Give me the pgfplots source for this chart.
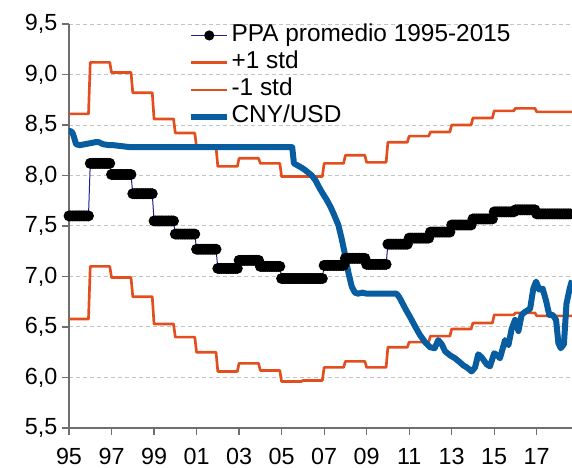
\documentclass[border=0pt]{standalone}
\usepackage{fontspec}
\setmainfont{Liberation Sans}
\usepackage{pgfplots}
\pgfplotsset{compat=1.18}
\definecolor{orng}{RGB}{226,78,30}
\definecolor{cnyblue}{RGB}{8,92,160}
\definecolor{navyl}{RGB}{30,30,140}
\definecolor{axgray}{RGB}{110,110,110}
\definecolor{gridgray}{RGB}{195,195,195}
\begin{document}
\begin{tikzpicture}
\begin{axis}[
  scale only axis, width=377.25pt, height=303pt,
  xmin=1995, xmax=2018.66, ymin=5.5, ymax=9.5,
  clip=false,
  axis x line=bottom, axis y line=left,
  axis line style={-, draw=axgray, line width=0.9pt},
  xtick={1995,1997,...,2017},
  xticklabels={95,97,99,01,03,05,07,09,11,13,15,17},
  ytick={5.5,6,...,9.5},
  tick align=outside, major tick length=5.25pt,
  tick style={axgray, line width=0.9pt},
  ymajorgrids, grid style={gridgray, dash pattern=on 3pt off 2.25pt, line width=0.75pt},
  yticklabel style={/pgf/number format/.cd, fixed, fixed zerofill, precision=1, use comma, assume math mode=true},
  xticklabel style={/pgf/number format/assume math mode=true, yshift=-6.5pt},
  ticklabel style={font=\fontsize{17.5}{21}\selectfont},
  legend style={at={(rel axis cs:0.2445,1.0)}, anchor=north west, draw=none, fill=none,
    xshift=-6pt, yshift=3.5pt,
    font=\fontsize{18.3}{22}\selectfont, row sep=0.6pt,
    nodes={inner xsep=1pt, inner ysep=1.5pt, text height=12.8pt, text depth=4pt}},
  legend cell align=left,
  legend image code/.code={\draw[#1] (0pt,0pt) -- (27pt,0pt);},
]
\addplot[navyl, line width=0.75pt, mark=*, mark size=3.7pt,
  mark options={black, fill=black, draw=black},
  legend image code/.code={\draw[navyl, line width=0.75pt] (0pt,0pt) -- (27pt,0pt); \fill[black] (13.5pt,0pt) circle (3.4pt);}]
coordinates {
(1995.000,7.60) (1995.083,7.60) (1995.167,7.60) (1995.250,7.60) (1995.333,7.60) (1995.417,7.60) (1995.500,7.60) (1995.583,7.60) (1995.667,7.60) (1995.750,7.60) (1995.833,7.60) (1995.917,7.60)
(1996.000,8.12) (1996.083,8.12) (1996.167,8.12) (1996.250,8.12) (1996.333,8.12) (1996.417,8.12) (1996.500,8.12) (1996.583,8.12) (1996.667,8.12) (1996.750,8.12) (1996.833,8.12) (1996.917,8.12)
(1997.000,8.01) (1997.083,8.01) (1997.167,8.01) (1997.250,8.01) (1997.333,8.01) (1997.417,8.01) (1997.500,8.01) (1997.583,8.01) (1997.667,8.01) (1997.750,8.01) (1997.833,8.01) (1997.917,8.01)
(1998.000,7.82) (1998.083,7.82) (1998.167,7.82) (1998.250,7.82) (1998.333,7.82) (1998.417,7.82) (1998.500,7.82) (1998.583,7.82) (1998.667,7.82) (1998.750,7.82) (1998.833,7.82) (1998.917,7.82)
(1999.000,7.55) (1999.083,7.55) (1999.167,7.55) (1999.250,7.55) (1999.333,7.55) (1999.417,7.55) (1999.500,7.55) (1999.583,7.55) (1999.667,7.55) (1999.750,7.55) (1999.833,7.55) (1999.917,7.55)
(2000.000,7.42) (2000.083,7.42) (2000.167,7.42) (2000.250,7.42) (2000.333,7.42) (2000.417,7.42) (2000.500,7.42) (2000.583,7.42) (2000.667,7.42) (2000.750,7.42) (2000.833,7.42) (2000.917,7.42)
(2001.000,7.27) (2001.083,7.27) (2001.167,7.27) (2001.250,7.27) (2001.333,7.27) (2001.417,7.27) (2001.500,7.27) (2001.583,7.27) (2001.667,7.27) (2001.750,7.27) (2001.833,7.27) (2001.917,7.27)
(2002.000,7.08) (2002.083,7.08) (2002.167,7.08) (2002.250,7.08) (2002.333,7.08) (2002.417,7.08) (2002.500,7.08) (2002.583,7.08) (2002.667,7.08) (2002.750,7.08) (2002.833,7.08) (2002.917,7.08)
(2003.000,7.16) (2003.083,7.16) (2003.167,7.16) (2003.250,7.16) (2003.333,7.16) (2003.417,7.16) (2003.500,7.16) (2003.583,7.16) (2003.667,7.16) (2003.750,7.16) (2003.833,7.16) (2003.917,7.16)
(2004.000,7.10) (2004.083,7.10) (2004.167,7.10) (2004.250,7.10) (2004.333,7.10) (2004.417,7.10) (2004.500,7.10) (2004.583,7.10) (2004.667,7.10) (2004.750,7.10) (2004.833,7.10) (2004.917,7.10)
(2005.000,6.98) (2005.083,6.98) (2005.167,6.98) (2005.250,6.98) (2005.333,6.98) (2005.417,6.98) (2005.500,6.98) (2005.583,6.98) (2005.667,6.98) (2005.750,6.98) (2005.833,6.98) (2005.917,6.98)
(2006.000,6.98) (2006.083,6.98) (2006.167,6.98) (2006.250,6.98) (2006.333,6.98) (2006.417,6.98) (2006.500,6.98) (2006.583,6.98) (2006.667,6.98) (2006.750,6.98) (2006.833,6.98) (2006.917,6.98)
(2007.000,7.11) (2007.083,7.11) (2007.167,7.11) (2007.250,7.11) (2007.333,7.11) (2007.417,7.11) (2007.500,7.11) (2007.583,7.11) (2007.667,7.11) (2007.750,7.11) (2007.833,7.11) (2007.917,7.11)
(2008.000,7.18) (2008.083,7.18) (2008.167,7.18) (2008.250,7.18) (2008.333,7.18) (2008.417,7.18) (2008.500,7.18) (2008.583,7.18) (2008.667,7.18) (2008.750,7.18) (2008.833,7.18) (2008.917,7.18)
(2009.000,7.12) (2009.083,7.12) (2009.167,7.12) (2009.250,7.12) (2009.333,7.12) (2009.417,7.12) (2009.500,7.12) (2009.583,7.12) (2009.667,7.12) (2009.750,7.12) (2009.833,7.12) (2009.917,7.12)
(2010.000,7.32) (2010.083,7.32) (2010.167,7.32) (2010.250,7.32) (2010.333,7.32) (2010.417,7.32) (2010.500,7.32) (2010.583,7.32) (2010.667,7.32) (2010.750,7.32) (2010.833,7.32) (2010.917,7.32)
(2011.000,7.38) (2011.083,7.38) (2011.167,7.38) (2011.250,7.38) (2011.333,7.38) (2011.417,7.38) (2011.500,7.38) (2011.583,7.38) (2011.667,7.38) (2011.750,7.38) (2011.833,7.38) (2011.917,7.38)
(2012.000,7.44) (2012.083,7.44) (2012.167,7.44) (2012.250,7.44) (2012.333,7.44) (2012.417,7.44) (2012.500,7.44) (2012.583,7.44) (2012.667,7.44) (2012.750,7.44) (2012.833,7.44) (2012.917,7.44)
(2013.000,7.51) (2013.083,7.51) (2013.167,7.51) (2013.250,7.51) (2013.333,7.51) (2013.417,7.51) (2013.500,7.51) (2013.583,7.51) (2013.667,7.51) (2013.750,7.51) (2013.833,7.51) (2013.917,7.51)
(2014.000,7.57) (2014.083,7.57) (2014.167,7.57) (2014.250,7.57) (2014.333,7.57) (2014.417,7.57) (2014.500,7.57) (2014.583,7.57) (2014.667,7.57) (2014.750,7.57) (2014.833,7.57) (2014.917,7.57)
(2015.000,7.64) (2015.083,7.64) (2015.167,7.64) (2015.250,7.64) (2015.333,7.64) (2015.417,7.64) (2015.500,7.64) (2015.583,7.64) (2015.667,7.64) (2015.750,7.64) (2015.833,7.64) (2015.917,7.64)
(2016.000,7.66) (2016.083,7.66) (2016.167,7.66) (2016.250,7.66) (2016.333,7.66) (2016.417,7.66) (2016.500,7.66) (2016.583,7.66) (2016.667,7.66) (2016.750,7.66) (2016.833,7.66) (2016.917,7.66)
(2017.000,7.62) (2017.083,7.62) (2017.167,7.62) (2017.250,7.62) (2017.333,7.62) (2017.417,7.62) (2017.500,7.62) (2017.583,7.62) (2017.667,7.62) (2017.750,7.62) (2017.833,7.62) (2017.917,7.62)
(2018.000,7.62) (2018.083,7.62) (2018.167,7.62) (2018.250,7.62) (2018.333,7.62) (2018.417,7.62) (2018.500,7.62) (2018.583,7.62)
};
\addlegendentry{PPA promedio 1995-2015}
\addplot[orng, line width=2pt, line join=round,
  legend image code/.code={\draw[orng, line width=2pt] (0pt,0pt) -- (27pt,0pt);}] coordinates {
(1995,8.61) (1995.917,8.61) (1996,9.12) (1996.917,9.12) (1997,9.02) (1997.917,9.02)
(1998,8.82) (1998.917,8.82) (1999,8.56) (1999.917,8.56) (2000,8.42) (2000.917,8.42)
(2001,8.28) (2001.917,8.28) (2002,8.09) (2002.917,8.09) (2003,8.17) (2003.917,8.17)
(2004,8.12) (2004.917,8.12) (2005,7.99) (2005.917,7.99) (2006,7.99) (2006.917,7.99)
(2007,8.12) (2007.917,8.12) (2008,8.20) (2008.917,8.20) (2009,8.13) (2009.917,8.13)
(2010,8.33) (2010.917,8.33) (2011,8.39) (2011.917,8.39) (2012,8.43) (2012.917,8.43)
(2013,8.50) (2013.917,8.50) (2014,8.57) (2014.917,8.57) (2015,8.64) (2015.917,8.64)
(2016,8.665) (2016.917,8.665) (2017,8.63) (2018.66,8.63)
};
\addlegendentry{+1 std}
\addplot[orng, line width=2pt, line join=round,
  legend image code/.code={\draw[orng, line width=2pt] (0pt,0pt) -- (27pt,0pt);}] coordinates {
(1995,6.58) (1995.917,6.58) (1996,7.10) (1996.917,7.10) (1997,6.99) (1997.917,6.99)
(1998,6.80) (1998.917,6.80) (1999,6.53) (1999.917,6.53) (2000,6.40) (2000.917,6.40)
(2001,6.25) (2001.917,6.25) (2002,6.06) (2002.917,6.06) (2003,6.14) (2003.917,6.14)
(2004,6.07) (2004.917,6.07) (2005,5.96) (2005.917,5.96) (2006,5.97) (2006.917,5.97)
(2007,6.10) (2007.917,6.10) (2008,6.16) (2008.917,6.16) (2009,6.10) (2009.917,6.10)
(2010,6.30) (2010.917,6.30) (2011,6.35) (2011.917,6.35) (2012,6.41) (2012.917,6.41)
(2013,6.48) (2013.917,6.48) (2014,6.54) (2014.917,6.54) (2015,6.62) (2015.917,6.62)
(2016,6.64) (2016.917,6.64) (2017,6.61) (2018.66,6.61)
};
\addlegendentry{-1 std}
\addplot[cnyblue, line width=4.5pt, line join=round,
  legend image code/.code={\draw[cnyblue, line width=4.5pt] (0pt,0pt) -- (27pt,0pt);}] coordinates {
(1995.00,8.44) (1995.08,8.44) (1995.17,8.42) (1995.25,8.37) (1995.33,8.31) (1995.50,8.30)
(1995.75,8.31) (1996.00,8.32) (1996.25,8.33) (1996.40,8.33) (1996.60,8.31) (1996.90,8.30)
(1997.10,8.30) (1997.50,8.29) (1997.90,8.28) (1998.50,8.28) (1999.50,8.28) (2000.50,8.28)
(2001.50,8.28) (2002.50,8.28) (2003.50,8.28) (2004.50,8.28) (2005.50,8.28) (2005.58,8.12)
(2005.75,8.10) (2006.00,8.07) (2006.25,8.03) (2006.42,8.00) (2006.60,7.95) (2006.80,7.87)
(2007.00,7.80) (2007.12,7.76) (2007.30,7.69) (2007.43,7.63) (2007.55,7.57) (2007.67,7.51)
(2007.83,7.37) (2007.98,7.22) (2008.14,7.04) (2008.30,6.90) (2008.45,6.84) (2008.60,6.83)
(2008.80,6.84) (2009.00,6.83) (2009.30,6.83) (2009.60,6.83) (2009.90,6.83) (2010.20,6.83)
(2010.41,6.83) (2010.55,6.79) (2010.70,6.73) (2010.85,6.67) (2011.04,6.60) (2011.27,6.51)
(2011.51,6.42) (2011.75,6.35) (2011.98,6.30) (2012.20,6.29) (2012.37,6.37) (2012.53,6.33)
(2012.69,6.26) (2012.92,6.22) (2013.16,6.19) (2013.39,6.15) (2013.55,6.12) (2013.71,6.10)
(2013.94,6.06) (2014.10,6.10) (2014.25,6.23) (2014.41,6.20) (2014.65,6.13) (2014.80,6.11)
(2015.00,6.24) (2015.15,6.22) (2015.27,6.19) (2015.51,6.37) (2015.67,6.32) (2015.82,6.48)
(2015.98,6.57) (2016.14,6.46) (2016.29,6.62) (2016.45,6.65) (2016.69,6.68) (2016.84,6.88)
(2016.97,6.95) (2017.12,6.87) (2017.28,6.88) (2017.44,6.76) (2017.59,6.62) (2017.75,6.62)
(2017.91,6.57) (2018.02,6.34) (2018.13,6.29) (2018.28,6.33) (2018.40,6.73) (2018.55,6.88)
(2018.66,6.96)
};
\addlegendentry{CNY/USD}
\end{axis}
\pgfresetboundingbox
\path ([shift={(-51.75pt,-30pt)}]current axis.south west) rectangle ([shift={(0pt,18pt)}]current axis.north east);
\end{tikzpicture}
\end{document}
